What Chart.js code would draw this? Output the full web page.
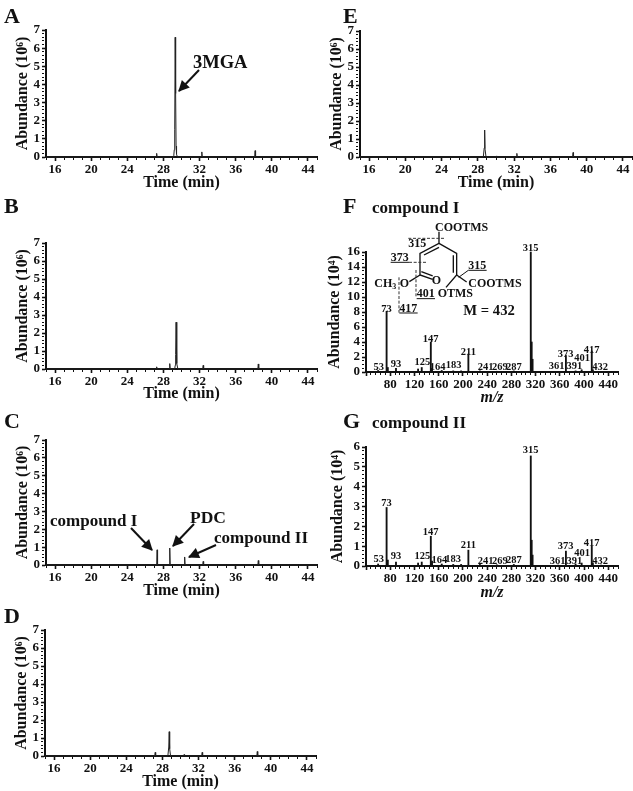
<!DOCTYPE html>
<html lang="en">
<head>
<meta charset="UTF-8" />
<title>GC-MS chromatograms and spectra</title>
<script src="https://cdn.jsdelivr.net/npm/chart.js"></script>
<style>
  html, body { margin: 0; background: #fff; overflow: hidden; }
  #page { position: relative; width: 633px; height: 791px; }
  canvas { position: absolute; }
  svg { position: absolute; left: 0; top: 0; }
  svg text { font-family: "Liberation Serif", serif; font-weight: bold; fill: #111; }
</style>
</head>
<body>
<div id="page">
  <canvas id="chartA"></canvas>
  <canvas id="chartB"></canvas>
  <canvas id="chartC"></canvas>
  <canvas id="chartD"></canvas>
  <canvas id="chartE"></canvas>
  <canvas id="chartF"></canvas>
  <canvas id="chartG"></canvas>

  <svg width="633" height="791" viewBox="0 0 633 791">
    <defs>
      <marker id="head" viewBox="0 0 10 10" refX="9" refY="5" markerWidth="13" markerHeight="11" markerUnits="userSpaceOnUse" orient="auto">
        <path d="M0 0 L10 5 L0 10 Z" fill="#111" />
      </marker>
    </defs>

    <!-- panel letters -->
    <g font-size="22">
      <text x="4" y="23">A</text>
      <text x="4" y="213">B</text>
      <text x="4" y="428">C</text>
      <text x="4" y="623">D</text>
      <text x="343" y="23">E</text>
      <text x="343" y="213">F</text>
      <text x="343" y="428">G</text>
    </g>

    <!-- chromatogram annotations -->
    <g font-size="17.5">
      <text x="193" y="68" font-size="18.5">3MGA</text>
      <text x="50" y="526" font-size="17">compound I</text>
      <text x="190" y="523">PDC</text>
      <text x="214" y="543" font-size="17">compound II</text>
      <text x="372" y="213" font-size="17">compound I</text>
      <text x="372" y="428" font-size="17">compound II</text>
    </g>
    <g stroke="#111" stroke-width="2" fill="none">
      <line x1="199" y1="70" x2="179" y2="91" marker-end="url(#head)" />
      <line x1="131" y1="528" x2="152" y2="550" marker-end="url(#head)" />
      <line x1="194" y1="524" x2="173" y2="546" marker-end="url(#head)" />
      <line x1="216" y1="545" x2="189" y2="557" marker-end="url(#head)" />
    </g>

    <!-- structure of compound I, coordinates in 1/3 px -->
    <g transform="translate(340 190) scale(0.3333)">
      <g stroke="#111" stroke-width="4" fill="none">
        <path d="M297 125 L297 160 L240 190 L240 255 L278 268" />
        <path d="M297 160 L350 190 L350 255 L318 292" />
        <path d="M252 195 L297 172" />
        <path d="M340 196 L340 248" />
        <path d="M244 245 L278 258" />
        <path d="M240 255 L208 275" />
        <path d="M350 255 L380 276" />
        <path d="M385 241 L356 262" stroke-width="3" />
      </g>
      <g stroke="#333" stroke-width="3" fill="none" stroke-dasharray="9 5">
        <path d="M205 145 L315 145" />
        <path d="M207 217 L260 217" />
        <path d="M228 240 L228 322" />
        <path d="M177 262 L177 368" />
      </g>
      <g stroke="#111" stroke-width="3" fill="none">
        <path d="M152 217 L207 217" />
        <path d="M385 241 L440 241" />
        <path d="M230 326 L285 326" />
        <path d="M178 369 L233 369" />
      </g>
      <g font-size="36">
        <text x="285" y="122">COOTMS</text>
        <text x="205" y="172">315</text>
        <text x="152" y="212">373</text>
        <text x="385" y="237">315</text>
        <text x="103" y="292">CH<tspan font-size="24" dy="6">3</tspan><tspan dy="-6" dx="10">O</tspan></text>
        <text x="275" y="283">O</text>
        <text x="385" y="290">COOTMS</text>
        <text x="293" y="320">OTMS</text>
        <text x="230" y="322">401</text>
        <text x="178" y="365">417</text>
      </g>
      <text x="370" y="375" font-size="44">M = 432</text>
    </g>
  </svg>
</div>

<script>
// ion chromatograms: time (min) and abundance (10^6)
const timesA = [15, 27.2, 27.25, 27.3, 29.08, 29.15, 29.2, 29.25, 29.3, 29.35, 29.4, 29.45, 29.55, 32.2, 32.25, 32.3, 38.1, 38.15, 38.2, 45];
const abundA = [0, 0, 0.2, 0, 0, 0.1, 0.4, 1.5, 6.6, 3.5, 0.6, 0.15, 0, 0, 0.28, 0, 0, 0.35, 0, 0];

const timesB = [15, 27.2, 27.25, 27.3, 28.65, 28.7, 28.75, 29.25, 29.3, 29.35, 29.4, 29.45, 29.5, 29.6, 32.35, 32.4, 32.45, 38.45, 38.5, 38.55, 45];
const abundB = [0, 0, 0.12, 0, 0, 0.3, 0, 0, 0.2, 0.8, 2.6, 1.2, 0.3, 0, 0, 0.2, 0, 0, 0.28, 0, 0];

const timesC = [15, 27.25, 27.3, 27.35, 28.65, 28.7, 28.75, 30.3, 30.35, 30.4, 32.35, 32.4, 32.45, 38.45, 38.5, 38.55, 45];
const abundC = [0, 0, 0.85, 0, 0, 0.95, 0, 0, 0.45, 0, 0, 0.2, 0, 0, 0.25, 0, 0];

const timesD = [15, 27.15, 27.2, 27.25, 28.6, 28.7, 28.75, 28.8, 28.9, 30.35, 30.4, 30.45, 32.35, 32.4, 32.45, 38.45, 38.5, 38.55, 45];
const abundD = [0, 0, 0.2, 0, 0, 0.5, 1.35, 0.4, 0, 0, 0.08, 0, 0, 0.2, 0, 0, 0.25, 0, 0];

const timesE = [15, 27, 27.05, 27.1, 28.6, 28.7, 28.75, 28.8, 28.9, 30, 30.05, 30.1, 32.25, 32.3, 32.35, 38.45, 38.5, 38.55, 45];
const abundE = [0, 0, 0.05, 0, 0, 0.5, 1.5, 0.4, 0, 0, 0.06, 0, 0, 0.2, 0, 0, 0.25, 0, 0];

// mass spectra: m/z position, abundance (10^4)
const mzF = [60, 74, 76, 89.5, 126, 132, 147, 149, 165, 184, 197, 209, 228, 256, 284, 312, 313.5, 315, 357, 370, 386, 396, 412.7, 414.5, 428];
const abundF = [0.2, 8.1, 0.6, 0.5, 0.4, 0.6, 4.0, 0.5, 0.2, 0.15, 0.15, 2.4, 0.15, 0.1, 0.15, 16, 4, 1.7, 0.1, 2.2, 0.15, 0.3, 2.8, 0.3, 0.1];
const labelTextF = ["53", "73", "93", "125", "147", "164", "183", "211", "241", "269", "287", "315", "361", "373", "391", "401", "417", "432"];
const labelMzF = [60.9, 74, 89.5, 133, 146.7, 158.3, 184.7, 208.9, 237.5, 261, 284.3, 311.8, 354.7, 369.6, 383.9, 396.6, 412.5, 426.3];
const labelAbundF = [0.67, 8.4, 1.02, 1.24, 4.4, 0.62, 0.93, 2.62, 0.58, 0.58, 0.62, 16.44, 0.71, 2.36, 0.8, 1.78, 2.89, 0.62];

const mzG = [60, 74, 76, 89.5, 126, 132, 147, 149, 165, 184, 197, 209, 228, 256, 284, 312, 313.5, 315, 357, 370, 386, 396, 412.7, 414.5, 428];
const abundG = [0.1, 2.95, 0.3, 0.2, 0.15, 0.2, 1.5, 0.25, 0.1, 0.08, 0.08, 0.8, 0.08, 0.06, 0.08, 5.55, 1.3, 0.55, 0.05, 0.75, 0.1, 0.15, 1.0, 0.15, 0.05];
const labelTextG = labelTextF;
const labelMzG = [60.9, 74, 89.5, 133, 146.7, 161, 184, 208.9, 237.5, 261, 284.3, 311.8, 356.4, 369.6, 383.9, 396.6, 412.5, 426.3];
const labelAbundG = [0.34, 3.18, 0.5, 0.47, 1.71, 0.27, 0.35, 1.03, 0.25, 0.24, 0.27, 5.85, 0.24, 0.97, 0.24, 0.64, 1.16, 0.24];

const SERIF = "'Liberation Serif', serif";
const MARGIN_TOP = 16, MARGIN_RIGHT = 1;

function nearMultiple(v, step) {
  const n = v / step;
  return Math.abs(n - Math.round(n)) < 1e-6;
}

// number labels above the spectrum peaks
function peakLabels(texts, xs, ys) {
  return {
    id: "peakLabels",
    afterDraw(chart) {
      const { ctx, scales } = chart;
      ctx.save();
      ctx.font = "bold 10.5px " + SERIF;
      ctx.fillStyle = "#111";
      ctx.textAlign = "center";
      ctx.textBaseline = "middle";
      texts.forEach((t, i) => {
        ctx.fillText(t, scales.x.getPixelForValue(xs[i]), scales.y.getPixelForValue(ys[i]));
      });
      ctx.restore();
    }
  };
}

function axisGrid(major) {
  const isMajor = ctx => ctx.tick && nearMultiple(ctx.tick.value, major);
  return {
    offset: false,
    drawOnChartArea: false,
    drawTicks: true,
    tickLength: 4,
    tickColor: "#111",
    tickWidth: ctx => (isMajor(ctx) ? 1.6 : 1),
    tickBorderDash: ctx => (isMajor(ctx) ? [] : [2, 6])
  };
}

function makeChart(id, box, type, dataset, axes, plugins) {
  const canvas = document.getElementById(id);
  const w = box.right - box.left + box.marginLeft + MARGIN_RIGHT;
  const h = box.bottom - box.top + box.marginBottom + MARGIN_TOP;
  canvas.width = w;
  canvas.height = h;
  canvas.style.width = w + "px";
  canvas.style.height = h + "px";
  canvas.style.left = (box.left - box.marginLeft) + "px";
  canvas.style.top = (box.top - MARGIN_TOP) + "px";

  return new Chart(canvas, {
    type: type,
    data: { datasets: [dataset] },
    plugins: plugins || [],
    options: {
      responsive: false,
      animation: false,
      events: [],
      layout: { padding: { top: MARGIN_TOP, right: MARGIN_RIGHT, left: 0, bottom: 0 } },
      plugins: { legend: { display: false }, tooltip: { enabled: false } },
      scales: {
        x: {
          type: "linear",
          offset: false,
          min: axes.xMin,
          max: axes.xMax,
          grid: axisGrid(axes.xMajor),
          border: { display: true, color: "#111", width: 2 },
          afterFit: s => { s.height = box.marginBottom; },
          ticks: {
            stepSize: axes.xStep,
            autoSkip: false,
            maxRotation: 0,
            minRotation: 0,
            padding: 1,
            color: "#111",
            font: { family: SERIF, weight: "bold", size: 13 },
            // the spectra start numbering at 80, the first tick stays blank
            callback: v => (nearMultiple(v, axes.xMajor) && v !== axes.xMin ? String(v) : "")
          },
          title: {
            display: true,
            text: axes.xTitle,
            color: "#111",
            padding: 0,
            font: { family: SERIF, weight: "bold", size: 16, style: axes.xItalic ? "italic" : "normal" }
          }
        },
        y: {
          min: 0,
          max: axes.yMax,
          grid: axisGrid(axes.yMajor),
          border: { display: true, color: "#111", width: 2 },
          afterFit: s => { s.width = box.marginLeft; },
          ticks: {
            stepSize: axes.yStep,
            autoSkip: false,
            padding: 2,
            color: "#111",
            font: { family: SERIF, weight: "bold", size: 13 },
            callback: v => (nearMultiple(v, axes.yMajor) ? String(Math.round(v)) : "")
          },
          title: {
            display: true,
            text: axes.yTitle,
            color: "#111",
            padding: 0,
            font: { family: SERIF, weight: "bold", size: 16 }
          }
        }
      }
    }
  });
}

function chromatogram(id, box, times, abund) {
  return makeChart(id, box, "line", {
    data: times.map((t, i) => ({ x: t, y: abund[i] })),
    borderColor: "#222",
    borderWidth: 1,
    pointRadius: 0,
    tension: 0,
    clip: false
  }, {
    xMin: 15, xMax: 45, xStep: 1, xMajor: 4, xTitle: "Time (min)",
    yMax: 7, yStep: 0.2, yMajor: 1, yTitle: "Abundance (10\u2076)"
  });
}

function spectrum(id, box, mz, abund, yMax, yStep, yMajor, texts, xs, ys) {
  return makeChart(id, box, "bar", {
    data: mz.map((m, i) => ({ x: m, y: abund[i] })),
    backgroundColor: "#111",
    barThickness: 1.2,
    clip: false
  }, {
    xMin: 40, xMax: 456, xStep: 8, xMajor: 40, xTitle: "m/z", xItalic: true,
    yMax: yMax, yStep: yStep, yMajor: yMajor, yTitle: "Abundance (10\u2074)"
  }, [peakLabels(texts, xs, ys)]);
}

chromatogram("chartA", { left: 46, right: 317, top: 30, bottom: 157, marginLeft: 33, marginBottom: 35 }, timesA, abundA);
chromatogram("chartB", { left: 46, right: 317, top: 243, bottom: 369, marginLeft: 33, marginBottom: 34 }, timesB, abundB);
chromatogram("chartC", { left: 46, right: 317, top: 440, bottom: 565, marginLeft: 33, marginBottom: 35 }, timesC, abundC);
chromatogram("chartD", { left: 45, right: 316, top: 630, bottom: 756, marginLeft: 33, marginBottom: 35 }, timesD, abundD);
chromatogram("chartE", { left: 360, right: 632, top: 31, bottom: 157, marginLeft: 33, marginBottom: 35 }, timesE, abundE);
spectrum("chartF", { left: 366, right: 618, top: 252, bottom: 372, marginLeft: 41, marginBottom: 35 }, mzF, abundF, 16, 0.5, 2, labelTextF, labelMzF, labelAbundF);
spectrum("chartG", { left: 366, right: 618, top: 447, bottom: 566, marginLeft: 38, marginBottom: 36 }, mzG, abundG, 6, 0.2, 1, labelTextG, labelMzG, labelAbundG);
</script>
</body>
</html>
